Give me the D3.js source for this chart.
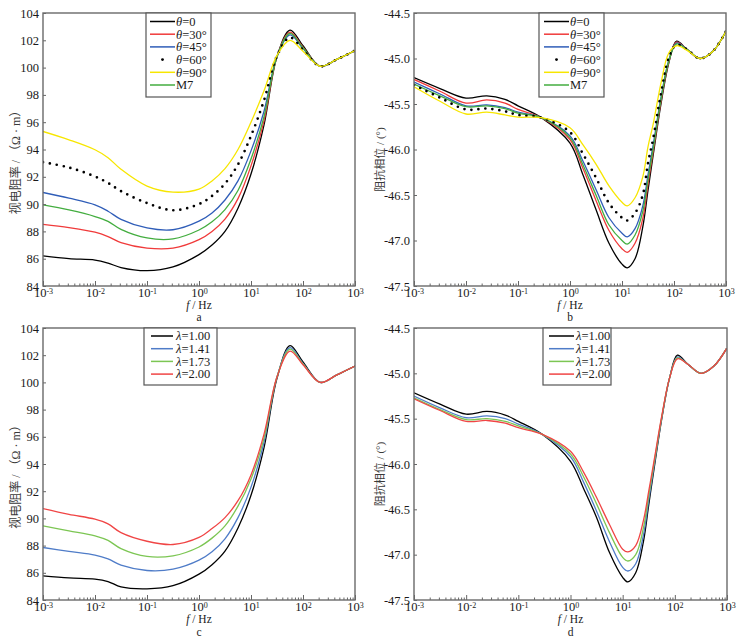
<!DOCTYPE html>
<html>
<head>
<meta charset="utf-8">
<script src="https://cdn.jsdelivr.net/npm/d3@7"></script>
<style>
  body { margin: 0; background: #fff; }
  text { font-family: "Liberation Serif", "Times New Roman", "DejaVu Serif", "Noto Sans CJK SC", serif; fill: #1a1a1a; }
  text.cjk { font-family: "Liberation Serif", "Times New Roman", "Noto Sans CJK SC", serif; }
</style>
</head>
<body>
<svg id="chart" width="745" height="642"></svg>
<script>
// frequencies (Hz) sampled for the resistivity panels (a, c)
const freqRho = [0.001, 0.00316, 0.01, 0.0178, 0.0316, 0.1, 0.316, 1, 1.78, 3.16, 5.62, 10, 17.8, 31.6, 56.2, 100, 214, 447, 1000];
// frequencies (Hz) sampled for the phase panels (b, d)
const freqPh = [0.001, 0.00316, 0.01, 0.0251, 0.0562, 0.1, 0.282, 1, 1.78, 3.16, 5.62, 10, 12.6, 17.8, 25.1, 31.6, 39.8, 56.2, 79.4, 112, 178, 316, 562, 1000];

// panel a : apparent resistivity vs theta
const rhoTheta0  = [86.2, 86.0, 85.9, 85.68, 85.35, 85.12, 85.4, 86.3, 87.0, 88.0, 89.7, 92.2, 95.8, 100.8, 102.75, 101.6, 100.1, 100.6, 101.25];
const rhoTheta30 = [88.52, 88.28, 87.94, 87.62, 87.18, 86.78, 86.78, 87.4, 88.0, 88.9, 90.4, 92.8, 96.1, 100.8, 102.6, 101.5, 100.1, 100.6, 101.25];
const rhoTheta45 = [90.85, 90.43, 89.94, 89.48, 88.88, 88.25, 88.12, 88.75, 89.35, 90.3, 91.7, 93.9, 96.8, 100.8, 102.4, 101.4, 100.1, 100.6, 101.25];
const rhoTheta60 = [93.07, 92.68, 92.02, 91.55, 90.95, 90.08, 89.55, 90.0, 90.6, 91.5, 92.9, 95.0, 97.6, 100.85, 102.2, 101.3, 100.1, 100.6, 101.25];
const rhoTheta90 = [95.32, 94.71, 93.98, 93.4, 92.55, 91.32, 90.88, 91.1, 91.7, 92.6, 94.0, 96.0, 98.3, 100.9, 102.0, 101.2, 100.1, 100.6, 101.25];
const rhoM7      = [89.94, 89.57, 89.09, 88.74, 88.15, 87.52, 87.45, 88.1, 88.7, 89.6, 91.0, 93.3, 96.4, 100.8, 102.5, 101.45, 100.1, 100.6, 101.25];

// panel b : impedance phase vs theta
const phTheta0  = [-45.21, -45.33, -45.435, -45.41, -45.45, -45.52, -45.65, -45.93, -46.28, -46.66, -47.03, -47.26, -47.30, -47.20, -46.85, -46.45, -46.06, -45.5, -45.05, -44.81, -44.9, -45.0, -44.92, -44.7];
const phTheta30 = [-45.23, -45.36, -45.49, -45.455, -45.49, -45.56, -45.65, -45.89, -46.21, -46.56, -46.89, -47.09, -47.13, -47.03, -46.76, -46.38, -46.02, -45.47, -45.04, -44.82, -44.9, -45.0, -44.92, -44.7];
const phTheta45 = [-45.26, -45.39, -45.52, -45.51, -45.54, -45.59, -45.65, -45.85, -46.13, -46.44, -46.75, -46.92, -46.96, -46.87, -46.62, -46.28, -45.95, -45.43, -45.02, -44.83, -44.9, -45.0, -44.92, -44.7];
const phTheta60 = [-45.29, -45.43, -45.56, -45.55, -45.58, -45.62, -45.65, -45.81, -46.05, -46.31, -46.59, -46.75, -46.78, -46.70, -46.5, -46.15, -45.88, -45.38, -44.99, -44.85, -44.9, -45.0, -44.92, -44.7];
const phTheta90 = [-45.31, -45.47, -45.61, -45.59, -45.62, -45.645, -45.65, -45.76, -45.95, -46.16, -46.40, -46.58, -46.62, -46.53, -46.3, -45.97, -45.72, -45.27, -44.94, -44.86, -44.91, -45.0, -44.92, -44.7];
const phM7      = [-45.28, -45.41, -45.53, -45.52, -45.55, -45.60, -45.65, -45.87, -46.17, -46.50, -46.83, -47.0, -47.04, -46.94, -46.68, -46.33, -45.99, -45.45, -45.03, -44.84, -44.9, -45.0, -44.92, -44.7];

// panel c : apparent resistivity vs lambda
const rhoL100 = [85.78, 85.62, 85.54, 85.36, 84.96, 84.82, 85.05, 85.9, 86.6, 87.6, 89.3, 91.7, 95.2, 100.3, 102.7, 101.5, 100.0, 100.55, 101.2];
const rhoL141 = [87.86, 87.57, 87.3, 87.02, 86.56, 86.17, 86.27, 86.93, 87.55, 88.5, 90.06, 92.3, 95.6, 100.4, 102.55, 101.4, 100.0, 100.55, 101.2];
const rhoL173 = [89.45, 89.09, 88.72, 88.38, 87.78, 87.2, 87.25, 87.9, 88.55, 89.45, 90.9, 92.9, 95.9, 100.4, 102.45, 101.35, 100.0, 100.55, 101.2];
const rhoL200 = [90.72, 90.3, 89.94, 89.6, 88.95, 88.32, 88.08, 88.6, 89.25, 90.06, 91.3, 93.2, 96.2, 100.4, 102.3, 101.3, 100.0, 100.55, 101.2];

// panel d : impedance phase vs lambda
const phL100 = [-45.215, -45.34, -45.45, -45.42, -45.46, -45.53, -45.67, -45.97, -46.27, -46.59, -46.98, -47.25, -47.30, -47.2, -46.85, -46.45, -46.06, -45.5, -45.05, -44.80, -44.9, -45.0, -44.92, -44.72];
const phL141 = [-45.25, -45.38, -45.49, -45.47, -45.5, -45.56, -45.67, -45.92, -46.2, -46.52, -46.86, -47.14, -47.18, -47.1, -46.78, -46.4, -46.03, -45.49, -45.05, -44.82, -44.9, -45.0, -44.92, -44.72];
const phL173 = [-45.27, -45.4, -45.51, -45.5, -45.53, -45.58, -45.67, -45.89, -46.14, -46.44, -46.76, -47.03, -47.07, -47.0, -46.7, -46.35, -46.0, -45.48, -45.05, -44.83, -44.9, -45.0, -44.92, -44.72];
const phL200 = [-45.28, -45.41, -45.53, -45.52, -45.55, -45.6, -45.67, -45.86, -46.09, -46.37, -46.67, -46.94, -46.97, -46.9, -46.62, -46.3, -45.97, -45.47, -45.05, -44.84, -44.9, -45.0, -44.92, -44.72];

const xMajor = [0.001, 0.01, 0.1, 1, 10, 100, 1000];
const xMajorExp = ["-3", "-2", "-1", "0", "1", "2", "3"];
const rhoTicks = [84, 86, 88, 90, 92, 94, 96, 98, 100, 102, 104];
const phTicks = [-44.5, -45.0, -45.5, -46.0, -46.5, -47.0, -47.5];

const thetaNames = ["=0", "=30°", "=45°", "M7", "=60°", "=90°"];
const lambdaNames = ["=1.00", "=1.41", "=1.73", "=2.00"];

const cBlack = "#000", cRed = "#f03a3a", cBlue = "#2f5db8", cGreen = "#43ad3f", cYellow = "#f7e600";
const cBlue2 = "#4f7cc8", cGreen2 = "#7cc653", cRed2 = "#f04545";

const svg = d3.select("#chart");
svg.append("rect").attr("width", 745).attr("height", 642).attr("fill", "#fff");

function makeSeries(vals, names, colors, sym, dotted) {
  return vals.map((v, i) => ({ values: v, name: names[i], color: colors[i], sym: names[i] !== "M7" ? sym : null, dotted: dotted === i }));
}

const panels = [
  { x0: 43, x1: 355, y0: 13, y1: 286, freq: freqRho, dom: [84, 104], ticks: rhoTicks, fmt: d => d3.format("d")(d),
    ylabel: "视电阻率 / （Ω · m）", ylx: 20, ylfs: 12, letter: "a", lab1: 309, lab2: 321,
    series: makeSeries([rhoTheta0, rhoTheta30, rhoTheta45, rhoM7, rhoTheta60, rhoTheta90], thetaNames, [cBlack, cRed, cBlue, cGreen, cBlack, cYellow], "θ", 4),
    legendOrder: [0, 1, 2, 4, 5, 3], lg: { x0: 146, x1: 211, y0: 13, y1: 97, l0: 150, l1: 175, t: 176, row0: 21.5 } },
  { x0: 414, x1: 726, y0: 13, y1: 286, freq: freqPh, dom: [-47.5, -44.5], ticks: phTicks, fmt: d => d.toFixed(1),
    ylabel: "阻抗相位 / (°)", ylx: 384, ylfs: 11, letter: "b", lab1: 309, lab2: 321,
    series: makeSeries([phTheta0, phTheta30, phTheta45, phM7, phTheta60, phTheta90], thetaNames, [cBlack, cRed, cBlue, cGreen, cBlack, cYellow], "θ", 4),
    legendOrder: [0, 1, 2, 4, 5, 3], lg: { x0: 539, x1: 604, y0: 13, y1: 97, l0: 544, l1: 569, t: 570, row0: 21.5 } },
  { x0: 43, x1: 355, y0: 328, y1: 600, freq: freqRho, dom: [84, 104], ticks: rhoTicks, fmt: d => d3.format("d")(d),
    ylabel: "视电阻率 / （Ω · m）", ylx: 20, ylfs: 12, letter: "c", lab1: 623, lab2: 636,
    series: makeSeries([rhoL100, rhoL141, rhoL173, rhoL200], lambdaNames, [cBlack, cBlue2, cGreen2, cRed2], "λ", -1),
    legendOrder: [0, 1, 2, 3], lg: { x0: 144, x1: 217, y0: 328, y1: 385, l0: 151, l1: 173, t: 176, row0: 336 } },
  { x0: 414, x1: 727, y0: 328, y1: 600, freq: freqPh, dom: [-47.5, -44.5], ticks: phTicks, fmt: d => d.toFixed(1),
    ylabel: "阻抗相位 / (°)", ylx: 384, ylfs: 11, letter: "d", lab1: 623, lab2: 636,
    series: makeSeries([phL100, phL141, phL173, phL200], lambdaNames, [cBlack, cBlue2, cGreen2, cRed2], "λ", -1),
    legendOrder: [0, 1, 2, 3], lg: { x0: 543, x1: 611, y0: 328, y1: 385, l0: 549, l1: 574, t: 576, row0: 336 } }
];

panels.forEach(drawPanel);

function drawPanel(p) {
  const x = d3.scaleLog().domain([0.001, 1000]).range([p.x0, p.x1]);
  const y = d3.scaleLinear().domain(p.dom).range([p.y1, p.y0]);
  const g = svg.append("g");

  const clipId = "clip" + p.letter;
  g.append("clipPath").attr("id", clipId).append("rect")
    .attr("x", p.x0).attr("y", p.y0).attr("width", p.x1 - p.x0).attr("height", p.y1 - p.y0);

  const line = d3.line()
    .x((d, i) => x(p.freq[i]))
    .y(d => y(d))
    .curve(d3.curveCatmullRom.alpha(0.5));

  const plot = g.append("g").attr("clip-path", `url(#${clipId})`);
  p.series.forEach(s => {
    const path = plot.append("path")
      .attr("d", line(s.values))
      .attr("fill", "none")
      .attr("stroke", s.color);
    if (s.dotted) {
      path.attr("stroke-width", 2.7).attr("stroke-linecap", "round").attr("stroke-dasharray", "0,7");
    } else {
      path.attr("stroke-width", 1.3);
    }
  });

  // minor x ticks
  const minor = x.ticks().filter(t => !xMajor.some(m => Math.abs(m - t) / m < 1e-6));
  g.append("g").attr("transform", `translate(0,${p.y1})`)
    .call(d3.axisBottom(x).tickValues(minor).tickSize(-2.5).tickFormat(""))
    .call(a => a.select(".domain").remove())
    .call(a => a.selectAll("line").attr("stroke", "#666"));

  // major x ticks with superscript labels
  const xa = g.append("g").attr("transform", `translate(0,${p.y1})`)
    .call(d3.axisBottom(x).tickValues(xMajor).tickSize(-5).tickPadding(2.5))
    .call(a => a.select(".domain").remove())
    .call(a => a.selectAll("line").attr("stroke", "#666"));
  xa.selectAll(".tick text").text(null)
    .attr("font-size", 12.5)
    .each(function (d, i) {
      const t = d3.select(this);
      t.append("tspan").text("10");
      t.append("tspan").attr("dy", "-0.45em").attr("font-size", 8).text(xMajorExp[i]);
    });

  // y ticks
  g.append("g").attr("transform", `translate(${p.x0},0)`)
    .call(d3.axisLeft(y).tickValues(p.ticks).tickSize(-3).tickPadding(4).tickFormat(p.fmt))
    .call(a => a.select(".domain").remove())
    .call(a => a.selectAll("line").attr("stroke", "#666"))
    .call(a => a.selectAll("text").attr("font-size", 12.5));

  // frame
  g.append("rect")
    .attr("x", p.x0).attr("y", p.y0).attr("width", p.x1 - p.x0).attr("height", p.y1 - p.y0)
    .attr("fill", "none").attr("stroke", "#6a6a6a").attr("stroke-width", 1.4);

  // axis titles
  const xl = g.append("text").attr("x", x(1)).attr("y", p.lab1).attr("text-anchor", "middle").attr("font-size", 11.5);
  xl.append("tspan").attr("font-style", "italic").text("f");
  xl.append("tspan").text(" / Hz");
  g.append("text").attr("x", x(1)).attr("y", p.lab2).attr("text-anchor", "middle").attr("font-size", 11.5).text(p.letter);

  g.append("text").attr("class", "cjk")
    .attr("transform", `translate(${p.ylx},${(p.y0 + p.y1) / 2 + 10}) rotate(-90)`)
    .attr("text-anchor", "middle").attr("font-size", p.ylfs).style("fill", "#3a3a3a")
    .text(p.ylabel);

  // legend
  const lg = p.lg;
  const lgG = g.append("g");
  lgG.append("rect").attr("x", lg.x0).attr("y", lg.y0).attr("width", lg.x1 - lg.x0).attr("height", lg.y1 - lg.y0)
    .attr("fill", "#fff").attr("stroke", "#555").attr("stroke-width", 1.2);
  p.legendOrder.forEach((si, r) => {
    const s = p.series[si];
    const yy = lg.row0 + r * 12.7;
    if (s.dotted) {
      lgG.append("circle").attr("cx", (lg.l0 + lg.l1) / 2).attr("cy", yy).attr("r", 1.4).attr("fill", s.color);
    } else {
      lgG.append("line").attr("x1", lg.l0).attr("x2", lg.l1).attr("y1", yy).attr("y2", yy)
        .attr("stroke", s.color).attr("stroke-width", 1.5);
    }
    const t = lgG.append("text").attr("x", lg.t).attr("y", yy + 4.3).attr("font-size", 12.5);
    if (s.sym) t.append("tspan").attr("font-style", "italic").text(s.sym);
    t.append("tspan").text(s.name);
  });
}
</script>
</body>
</html>
